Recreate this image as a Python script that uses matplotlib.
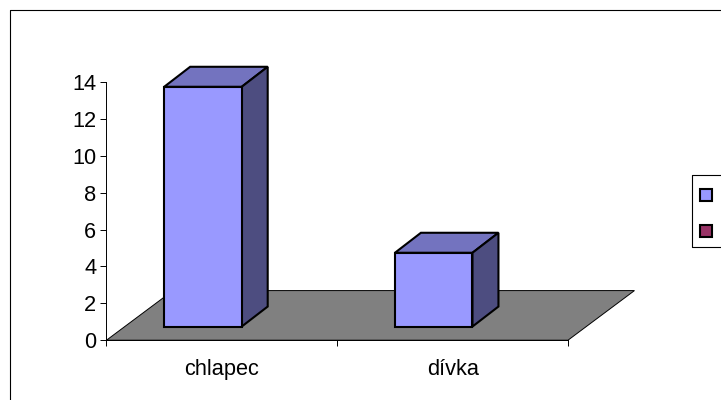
import matplotlib
matplotlib.use("Agg")
import matplotlib.pyplot as plt
from matplotlib.patches import Polygon, Rectangle
from matplotlib.lines import Line2D

# --- Data ---
categories = ["chlapec", "dívka"]
values = [13, 4]
y_ticks = [0, 2, 4, 6, 8, 10, 12, 14]
legend_colors = ["#9999FF", "#993366"]

# --- Settings ---
W, H = 721, 400
plt.rcParams["font.family"] = ["Liberation Sans", "DejaVu Sans"]
font_size = 15.7

# 3D look, in data units (categories on x, values on y)
floor_dx, floor_dy = 0.288, 2.69
bar_dx, bar_dy = 0.1126, 1.085
bar_base = 0.74
bar_width = 0.336
bar_center = 0.418

fig = plt.figure(figsize=(W / 100, H / 100), dpi=100)
fig.patch.set_facecolor("white")
ax = fig.add_axes([106.5 / W, 1 - 340.2 / H, 461.5 / W, 258.2 / H])
ax.set_xlim(0, len(categories))
ax.set_ylim(0, 14)
ax.patch.set_visible(False)

for s in ["top", "right"]:
    ax.spines[s].set_visible(False)
for s in ["left", "bottom"]:
    ax.spines[s].set_linewidth(0.7)
    ax.spines[s].set_zorder(5)

# Floor
n = len(categories)
ax.add_patch(Polygon([(0, 0), (n, 0), (n + floor_dx, floor_dy), (floor_dx, floor_dy)],
                     closed=True, facecolor="#808080", edgecolor="black", linewidth=0.7,
                     clip_on=False, zorder=1))

# Bars
for i, v in enumerate(values):
    x0 = i + bar_center - bar_width / 2
    x1 = i + bar_center + bar_width / 2
    y0 = bar_base
    y1 = v + bar_base
    style = dict(closed=True, edgecolor="black", linewidth=1.5, joinstyle="miter",
                 clip_on=False, zorder=3)
    ax.add_patch(Polygon([(x0, y1), (x1, y1), (x1 + bar_dx, y1 + bar_dy), (x0 + bar_dx, y1 + bar_dy)],
                         facecolor="#7373BF", **style))
    ax.add_patch(Polygon([(x1, y0), (x1 + bar_dx, y0 + bar_dy), (x1 + bar_dx, y1 + bar_dy), (x1, y1)],
                         facecolor="#4D4D80", **style))
    ax.add_patch(Polygon([(x0, y0), (x1, y0), (x1, y1), (x0, y1)],
                         facecolor=legend_colors[0], **style))

# Axes ticks
ax.set_yticks(y_ticks)
ax.set_xticks(range(n + 1))
ax.set_xticklabels([])
ax.tick_params(axis="both", length=4.3, width=0.7, labelsize=font_size, color="black")
ax.tick_params(axis="y", pad=3)
for i, c in enumerate(categories):
    ax.annotate(c, (i + 0.5, 0), xytext=(0, -13.5), textcoords="offset points",
                ha="center", va="top", fontsize=font_size, color="black")

# Chart frame: runs off the right and bottom of the picture
fig.add_artist(Line2D([10.2 / W, 10.2 / W, 1], [0, 1 - 10.2 / H, 1 - 10.2 / H],
                      color="black", linewidth=0.8))

# Legend box, with no series names
fig.add_artist(Line2D([1, 692 / W, 692 / W, 1],
                      [1 - 174.5 / H, 1 - 174.5 / H, 1 - 246.5 / H, 1 - 246.5 / H],
                      color="black", linewidth=0.8))
for c, top in zip(legend_colors, [188.5, 224.5]):
    fig.add_artist(Rectangle((700 / W, 1 - (top + 12) / H), 12 / W, 12 / H, facecolor=c,
                             edgecolor="black", linewidth=1.5, transform=fig.transFigure))

fig.savefig("out.png", dpi=100)
